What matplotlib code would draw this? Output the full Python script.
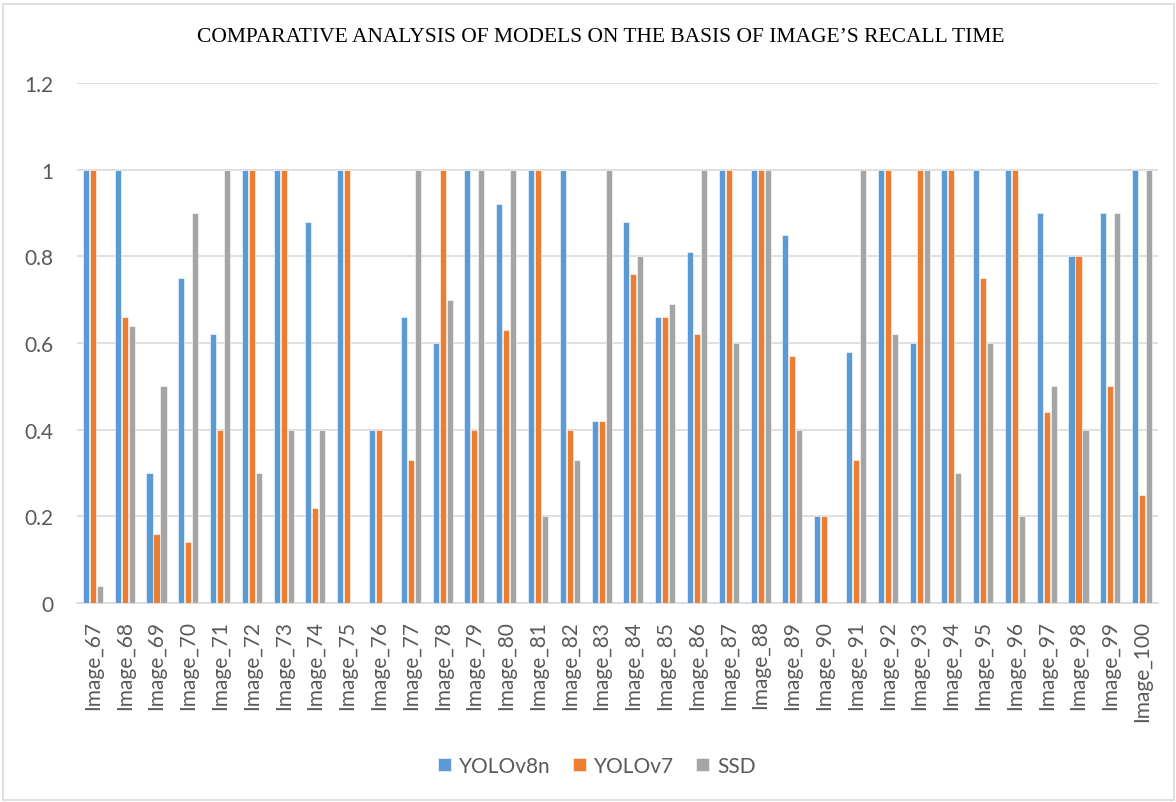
import matplotlib
matplotlib.use("Agg")
import matplotlib.pyplot as plt
import numpy as np
from matplotlib.patches import Rectangle

# data
images = ["Image_%d" % i for i in range(67, 101)]
yolov8n = [1, 1, 0.3, 0.75, 0.62, 1, 1, 0.88, 1, 0.4,
           0.66, 0.6, 1, 0.92, 1, 1, 0.42, 0.88, 0.66, 0.81,
           1, 1, 0.85, 0.2, 0.58, 1, 0.6, 1, 1, 1,
           0.9, 0.8, 0.9, 1]
yolov7 = [1, 0.66, 0.16, 0.14, 0.4, 1, 1, 0.22, 1, 0.4,
          0.33, 1, 0.4, 0.63, 1, 0.4, 0.42, 0.76, 0.66, 0.62,
          1, 1, 0.57, 0.2, 0.33, 1, 1, 1, 0.75, 1,
          0.44, 0.8, 0.5, 0.25]
ssd = [0.04, 0.64, 0.5, 0.9, 1, 0.3, 0.4, 0.4, 0, 0,
       1, 0.7, 1, 1, 0.2, 0.33, 1, 0.8, 0.69, 1,
       0.6, 1, 0.4, 0, 1, 0.62, 1, 0.3, 0.6, 0.2,
       0.5, 0.4, 0.9, 1]
series_names = ["YOLOv8n", "YOLOv7", "SSD"]
colors = ["#5b9bd5", "#ed7d31", "#a5a5a5"]

FONT = "Lato"
FS = 15

W, H = 1176, 803
fig = plt.figure(figsize=(W / 100, H / 100), dpi=100)
fig.patch.set_facecolor("white")

# outer chart border
fig.patches.append(Rectangle((3 / W, 0.002), (W - 5) / W, (H - 7) / H,
                             transform=fig.transFigure, fill=False,
                             edgecolor="#d9d9d9", linewidth=1.2))

ax = fig.add_axes([77 / W, 1 - 604 / H, 1081 / W, 520 / H])
x = np.arange(len(images))
bw = 0.19
step = 0.22
for k, vals in enumerate([yolov8n, yolov7, ssd]):
    ax.bar(x + (k - 1) * step, vals, width=bw, color=colors[k],
           edgecolor="white", linewidth=0.4, label=series_names[k], zorder=3)

ax.set_xlim(-0.5, len(images) - 0.5)
ax.set_ylim(0, 1.2)
ax.set_yticks(np.arange(0, 1.21, 0.2))
ax.set_yticklabels(["0", "0.2", "0.4", "0.6", "0.8", "1", "1.2"])
ax.set_xticks(x)
ax.set_xticklabels(images, rotation=90)
ax.grid(axis="y", color="#d9d9d9", linewidth=1.2, zorder=0)
for s in ["top", "right", "left"]:
    ax.spines[s].set_visible(False)
ax.spines["bottom"].set_color("#d9d9d9")
ax.spines["bottom"].set_linewidth(1.2)
ax.tick_params(axis="both", length=0, labelcolor="#595959", labelsize=FS)
ax.tick_params(axis="y", pad=17)
ax.tick_params(axis="x", pad=12)
for t in ax.get_xticklabels() + ax.get_yticklabels():
    t.set_fontfamily(FONT)

fig.text(601 / W, 1 - 38 / H,
         "COMPARATIVE ANALYSIS OF MODELS ON THE BASIS OF IMAGE\u2019S RECALL TIME",
         ha="center", va="center", fontsize=15.5, family="Liberation Serif",
         color="black")

leg = fig.legend(loc="center", bbox_to_anchor=(597 / W, 1 - 767 / H), ncol=3,
                 frameon=False, handlelength=0.63, handleheight=0.63,
                 handletextpad=0.4, columnspacing=1.05,
                 prop={"family": FONT, "size": FS})
for t in leg.get_texts():
    t.set_color("#595959")

fig.savefig("out.png", dpi=100)
